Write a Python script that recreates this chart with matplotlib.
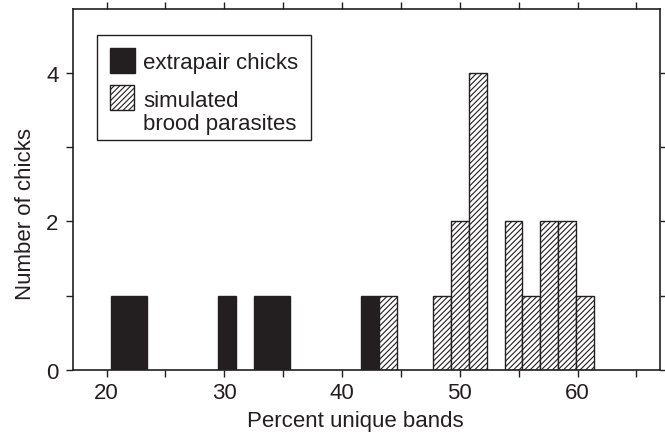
import matplotlib
matplotlib.use("Agg")
import matplotlib.pyplot as plt
from matplotlib.patches import Rectangle
from matplotlib.ticker import MultipleLocator

plt.rcParams["font.family"] = ["Liberation Sans", "DejaVu Sans"]
plt.rcParams["hatch.linewidth"] = 0.8

# bin centres (percent unique bands) and counts
extrapair_x = [21.12, 22.64, 30.24, 33.28, 34.80, 42.40]
extrapair_n = [1, 1, 1, 1, 1, 1]

simulated_x = [43.92, 48.48, 50.00, 51.52, 54.56, 56.08, 57.60, 59.12, 60.64]
simulated_n = [1, 1, 2, 4, 2, 1, 2, 2, 1]

bin_w = 1.52
ink = "#231f20"

fig = plt.figure(figsize=(6.65, 4.35), dpi=100)
# axes box in pixels: left 73, top 10, right 660, bottom 371
ax = fig.add_axes([73 / 665, 1 - 371 / 435, 587 / 665, 361 / 435])

ax.bar(extrapair_x, extrapair_n, width=bin_w, color=ink,
       edgecolor=ink, linewidth=1.0)
ax.bar(simulated_x, simulated_n, width=bin_w, color="white",
       edgecolor=ink, linewidth=1.0, hatch="//////")

ax.set_xlim(17.15, 67.0)
ax.set_ylim(0, 4.86)
ax.xaxis.set_major_locator(MultipleLocator(10))
ax.xaxis.set_minor_locator(MultipleLocator(5))
ax.yaxis.set_major_locator(MultipleLocator(2))
ax.yaxis.set_minor_locator(MultipleLocator(1))
ax.tick_params(which="both", direction="out", length=5, width=1.0,
               top=True, right=True, labelsize=16, colors=ink)
ax.tick_params(axis="y", pad=5.5)
for s in ax.spines.values():
    s.set_linewidth(1.2)
    s.set_color(ink)

ax.set_xlabel("Percent unique bands", fontsize=16, color=ink, labelpad=5)
ax.set_ylabel("Number of chicks", fontsize=16, color=ink, labelpad=7)
# labels in the original sit a little off the axes centre
ax.xaxis.label.set_x(0.4804)
ax.yaxis.label.set_y(0.435)


# legend drawn by hand so the hatched key lines up with the first text line
def px(x, y):
    return (x - 73) / 587, (371 - y) / 361


def box(x0, y0, x1, y1, **kw):
    fx0, fy1 = px(x0, y1)
    fx1, fy0 = px(x1, y0)
    ax.add_patch(Rectangle((fx0, fy1), fx1 - fx0, fy0 - fy1,
                           transform=ax.transAxes, clip_on=False, **kw))


box(97, 36, 311, 141, facecolor="white", edgecolor=ink, linewidth=1.0, zorder=5)
box(110, 49, 135, 74, facecolor=ink, edgecolor=ink, linewidth=1.0, zorder=6)
box(110, 86, 134, 111, facecolor="white", edgecolor=ink, linewidth=1.0,
    hatch="//////", zorder=6)

for label, y in [("extrapair chicks", 69), ("simulated", 107),
                 ("brood parasites", 130)]:
    tx, ty = px(143, y)
    ax.text(tx, ty, label, transform=ax.transAxes, fontsize=16, color=ink,
            va="baseline", ha="left", zorder=7)

fig.savefig("out.png", dpi=100)
